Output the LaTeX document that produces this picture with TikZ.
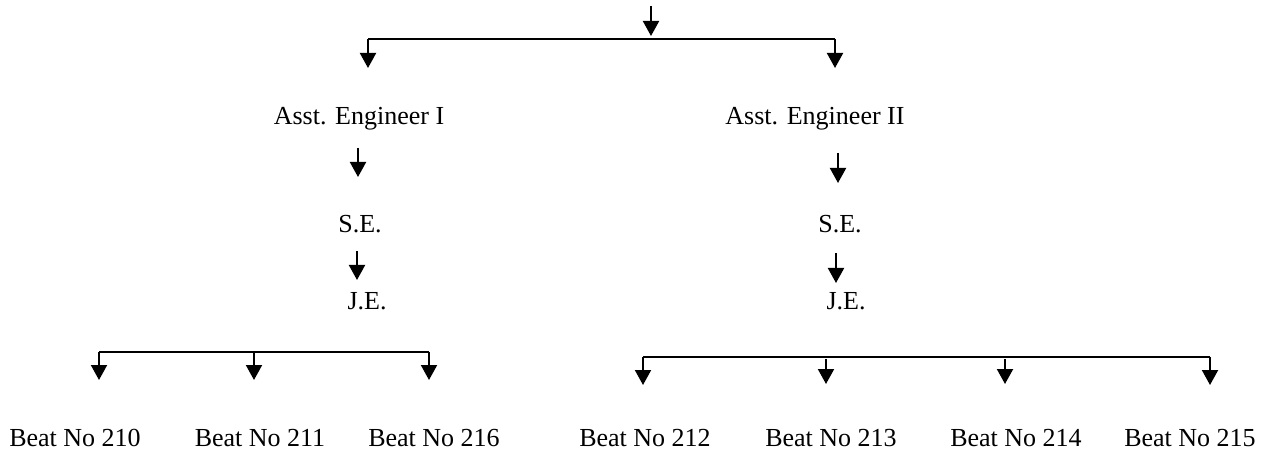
\documentclass[tikz,border=0pt]{standalone}
\usepackage{fontspec}
\setmainfont{Liberation Serif}
\usetikzlibrary{arrows.meta}
\begin{document}
\begin{tikzpicture}[x=1pt,y=-1pt,
  lbl/.style={anchor=base,inner sep=0pt,font=\fontsize{26}{30}\selectfont},
  arr/.style={line width=2pt,-{Triangle[width=16pt,length=15pt]}},
  barline/.style={line width=2pt}]
\useasboundingbox (0,0) rectangle (1264,454);
% labels
\node[lbl] (ae1) at (359,125) {Asst. Engineer I};
\node[lbl] (ae2) at (815,125) {Asst. Engineer II};
\node[lbl] (se1) at (360,233) {S.E.};
\node[lbl] (se2) at (840,233) {S.E.};
\node[lbl] (je1) at (367,310) {J.E.};
\node[lbl] (je2) at (846,310) {J.E.};
\node[lbl] (b210) at (75,446) {Beat No 210};
\node[lbl] (b211) at (260,446) {Beat No 211};
\node[lbl] (b216) at (434,446) {Beat No 216};
\node[lbl] (b212) at (645,446) {Beat No 212};
\node[lbl] (b213) at (831,446) {Beat No 213};
\node[lbl] (b214) at (1016,446) {Beat No 214};
\node[lbl] (b215) at (1190,446) {Beat No 215};
% coordinates
\coordinate (t0) at (651,6);
\coordinate (t1) at (651,36);
\coordinate (bl) at (368,39);
\coordinate (br) at (835,39);
\coordinate (bl2) at (368,68);
\coordinate (br2) at (835,68);
\coordinate (a1s) at (358,148);
\coordinate (a1e) at (358,177);
\coordinate (a2s) at (357,251);
\coordinate (a2e) at (357,280);
\coordinate (a3s) at (838,153);
\coordinate (a3e) at (838,183);
\coordinate (a4s) at (836,253);
\coordinate (a4e) at (836,283);
% left beat bar
\coordinate (lb1) at (99,352);
\coordinate (lb2) at (254,352);
\coordinate (lb3) at (429,352);
\coordinate (lb1e) at (99,380);
\coordinate (lb2e) at (254,380);
\coordinate (lb3e) at (429,380);
% right beat bar
\coordinate (rb1) at (643,357);
\coordinate (rb2) at (826,357);
\coordinate (rb3) at (1005,357);
\coordinate (rb4) at (1210,357);
\coordinate (rb1e) at (643,385);
\coordinate (rb2e) at (826,384);
\coordinate (rb3e) at (1005,384);
\coordinate (rb4e) at (1210,385);
% top
\draw[arr] (t0) -- (t1);
\draw[barline] (bl) -- (br);
\draw[arr] (bl) -- (bl2);
\draw[arr] (br) -- (br2);
% vertical chains
\draw[arr] (a1s) -- (a1e);
\draw[arr] (a2s) -- (a2e);
\draw[arr] (a3s) -- (a3e);
\draw[arr] (a4s) -- (a4e);
% left beats
\draw[barline] (lb1) -- (lb3);
\draw[arr] (lb1) -- (lb1e);
\draw[arr] (lb2) -- (lb2e);
\draw[arr] (lb3) -- (lb3e);
% right beats
\draw[barline] (rb1) -- (rb4);
\draw[arr] (rb1) -- (rb1e);
\draw[arr] ([yshift=-2pt]rb2) -- (rb2e);
\draw[arr] ([yshift=-2pt]rb3) -- (rb3e);
\draw[arr] (rb4) -- (rb4e);
\end{tikzpicture}
\end{document}
